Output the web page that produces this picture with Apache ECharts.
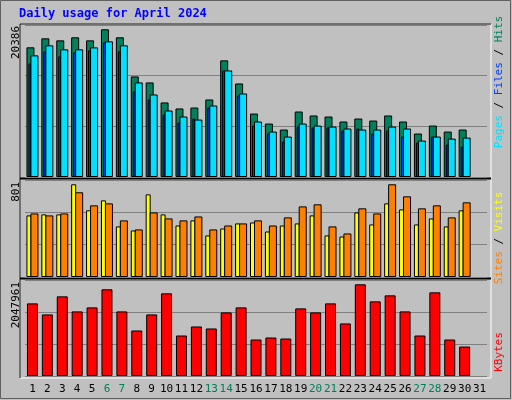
<!DOCTYPE html>
<html>
<head>
<meta charset="utf-8">
<script src="https://cdn.jsdelivr.net/npm/echarts@6/dist/echarts.min.js"></script>
<style>
  html, body { margin: 0; padding: 0; background: #c0c0c0; }
  #chart { width: 512px; height: 400px; }
</style>
</head>
<body>
<div id="chart"></div>
<script>
// data
var days = ['1','2','3','4','5','6','7','8','9','10','11','12','13','14','15','16',
  '17','18','19','20','21','22','23','24','25','26','27','28','29','30','31'];
var weekend = ['6','7','13','14','20','21','27','28'];
var hits = [17900,19140,18860,19280,18860,20386,19280,13880,13050,10290,9460,9590,10700,16100,12910,8760,
  7380,6550,9040,8490,8350,7660,8070,7790,8490,7660,6000,7100,6270,6550,null];
var files = [15680,17340,16650,17200,17480,18590,17340,11810,10700,8620,7520,8070,9590,14710,11250,7100,
  6000,4890,6960,6830,6830,6410,6690,6000,6410,5580,4750,5580,4470,4200,null];
var pages = [16790,18170,17620,17620,17890,18720,18170,13050,11390,9180,8350,7930,9870,14710,11530,7660,
  6270,5580,7380,7100,6960,6690,6550,6550,6960,6690,5030,5580,5300,5440,null];
var sites = [532,541,541,801,576,662,437,402,714,541,445,489,359,419,463,471,
  393,445,463,532,359,350,558,454,636,584,454,506,437,576,null];
var visits = [549,532,549,732,619,636,489,411,558,506,489,523,411,445,463,489,
  445,515,610,628,437,376,593,549,801,697,593,619,515,645,null];
var kbytes = [1621900,1375200,1778800,1442500,1532200,1935800,1442500,1016500,1375200,1846100,904400,1106200,1061300,1420100,1532200,814700,
  859500,837100,1509800,1420100,1621900,1173400,2047961,1666700,1801200,1442500,904400,1868500,814700,657700,null];
var maxLabels = ['20386', '801', '2047961'];

var chart = echarts.init(document.getElementById('chart'));
var mono = 'DejaVu Sans Mono';
var edge = { borderColor: '#000', borderWidth: 1 };

// panels: top/height of each plot area
var panels = [
  { top: 25, height: 152, max: 20980 },
  { top: 180, height: 97, max: 838 },
  { top: 280, height: 96, max: 2144000 }
];

var grids = panels.map(function (p) {
  return { left: 25, width: 462, top: p.top, height: p.height };
});

var xAxes = [];
var yAxes = [];
// two category axes on the top grid (second one carries the narrow files bar)
[0, 0, 1, 2].forEach(function (g, i) {
  xAxes.push({
    type: 'category', data: days, gridIndex: g,
    show: i === 3,
    axisLine: { show: false }, axisTick: { show: false },
    axisLabel: {
      fontFamily: mono, fontSize: 11, margin: 8, interval: 0,
      color: function (v) { return weekend.indexOf(v) >= 0 ? '#00805c' : '#000'; }
    }
  });
});
panels.forEach(function (p, i) {
  yAxes.push({
    type: 'value', gridIndex: i, min: 0, max: p.max, interval: p.max / 3,
    axisLabel: { show: false }, axisLine: { show: false }, axisTick: { show: false },
    splitLine: { lineStyle: { color: '#808080', width: 1 } }
  });
});

var blank = days.map(function () { return 0; });

chart.setOption({
  animation: false,
  backgroundColor: '#c0c0c0',
  grid: grids,
  xAxis: xAxes,
  yAxis: yAxes,
  graphic: [
    { type: 'rect', shape: { x: 0.5, y: 0.5, width: 510, height: 398 }, style: { fill: 'none', stroke: '#606060', lineWidth: 1 }, z: -10 },
    { type: 'rect', shape: { x: 20, y: 24, width: 471, height: 354 }, style: { fill: '#c0c0c0', stroke: '#fff', lineWidth: 1 }, z: -5 },
    { type: 'line', shape: { x1: 20, y1: 24, x2: 491, y2: 24 }, style: { stroke: '#000' }, z: -4 },
    { type: 'line', shape: { x1: 20, y1: 24, x2: 20, y2: 378 }, style: { stroke: '#000' }, z: -4 },
    { type: 'line', shape: { x1: 20, y1: 178.5, x2: 491, y2: 178.5 }, style: { stroke: '#000', lineWidth: 2 }, z: -4 },
    { type: 'line', shape: { x1: 20, y1: 278.5, x2: 491, y2: 278.5 }, style: { stroke: '#000', lineWidth: 2 }, z: -4 },
    { type: 'text', left: 19, top: 8, style: { text: 'Daily usage for April 2024', font: 'bold 12px ' + mono, fill: '#0000ff' } },
    { type: 'text', x: 16, y: 26, rotation: Math.PI / 2, style: { text: maxLabels[0], font: '11px ' + mono, fill: '#000', align: 'right', verticalAlign: 'middle' } },
    { type: 'text', x: 16, y: 182, rotation: Math.PI / 2, style: { text: maxLabels[1], font: '11px ' + mono, fill: '#000', align: 'right', verticalAlign: 'middle' } },
    { type: 'text', x: 16, y: 282, rotation: Math.PI / 2, style: { text: maxLabels[2], font: '11px ' + mono, fill: '#000', align: 'right', verticalAlign: 'middle' } },
    { type: 'text', x: 499, y: 82, rotation: Math.PI / 2, style: {
      text: '{p|Pages} {s|/} {f|Files} {s|/} {h|Hits}', align: 'center', verticalAlign: 'middle',
      font: '11px ' + mono,
      rich: { p: { fill: '#00e0ff' }, f: { fill: '#0040ff' }, h: { fill: '#00805c' }, s: { fill: '#000' } } } },
    { type: 'text', x: 499, y: 238, rotation: Math.PI / 2, style: {
      text: '{a|Sites} {s|/} {b|Visits}', align: 'center', verticalAlign: 'middle',
      font: '11px ' + mono,
      rich: { a: { fill: '#ff8000' }, b: { fill: '#ffff00' }, s: { fill: '#000' } } } },
    { type: 'text', x: 499, y: 352, rotation: Math.PI / 2, style: { text: 'KBytes', font: '11px ' + mono, fill: '#ff0000', align: 'center', verticalAlign: 'middle' } }
  ],
  series: [
    { type: 'bar', name: 'Hits', xAxisIndex: 0, yAxisIndex: 0, data: hits, barWidth: 8, barGap: '-50%', itemStyle: Object.assign({ color: '#00805c' }, edge) },
    { type: 'bar', name: 'Files', xAxisIndex: 1, yAxisIndex: 0, data: files, barWidth: 3, barGap: '0%', itemStyle: Object.assign({ color: '#0040ff' }, edge) },
    { type: 'bar', name: 'spacer', xAxisIndex: 1, yAxisIndex: 0, data: blank, barWidth: 5, itemStyle: { color: 'transparent' }, silent: true },
    { type: 'bar', name: 'Pages', xAxisIndex: 0, yAxisIndex: 0, data: pages, barWidth: 8, itemStyle: Object.assign({ color: '#00e0ff' }, edge) },
    { type: 'bar', name: 'Sites', xAxisIndex: 2, yAxisIndex: 1, data: sites, barWidth: 5, barGap: '-20%', itemStyle: Object.assign({ color: '#ffff00' }, edge) },
    { type: 'bar', name: 'Visits', xAxisIndex: 2, yAxisIndex: 1, data: visits, barWidth: 8, itemStyle: Object.assign({ color: '#ff8000' }, edge) },
    { type: 'bar', name: 'KBytes', xAxisIndex: 3, yAxisIndex: 2, data: kbytes, barWidth: 11, itemStyle: Object.assign({ color: '#ff0000' }, edge) }
  ]
});
</script>
</body>
</html>
